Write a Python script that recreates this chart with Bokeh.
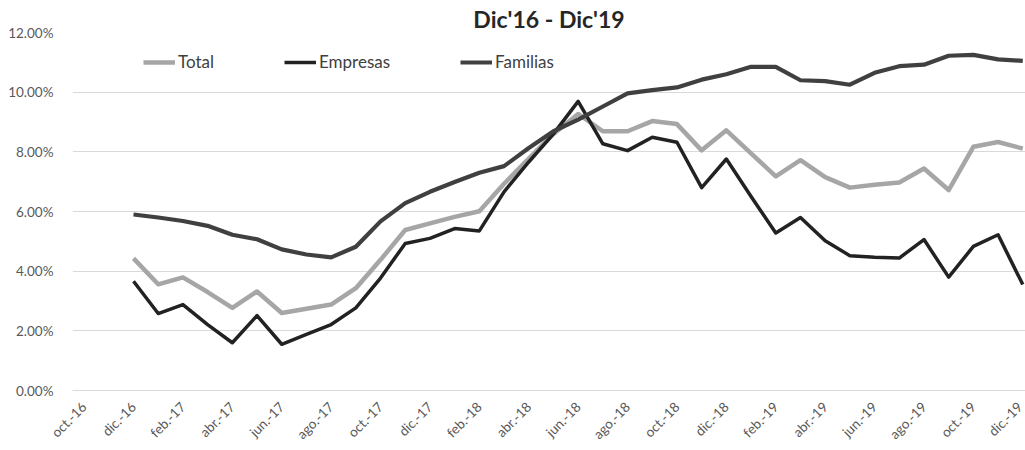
from bokeh.plotting import figure
from bokeh.models import FixedTicker, PrintfTickFormatter, Range1d, Legend, LegendItem
from bokeh.embed import file_html
from bokeh.resources import INLINE

months = ["oct.-16", "nov.-16", "dic.-16",
          "ene.-17", "feb.-17", "mar.-17", "abr.-17", "may.-17", "jun.-17",
          "jul.-17", "ago.-17", "sep.-17", "oct.-17", "nov.-17", "dic.-17",
          "ene.-18", "feb.-18", "mar.-18", "abr.-18", "may.-18", "jun.-18",
          "jul.-18", "ago.-18", "sep.-18", "oct.-18", "nov.-18", "dic.-18",
          "ene.-19", "feb.-19", "mar.-19", "abr.-19", "may.-19", "jun.-19",
          "jul.-19", "ago.-19", "sep.-19", "oct.-19", "nov.-19", "dic.-19"]

# series start at dic.-16
start_month = "dic.-16"

total = [4.43, 3.56, 3.79, 3.30, 2.77, 3.32, 2.60, 2.74, 2.88, 3.43, 4.38, 5.38,
         5.60, 5.82, 6.01, 6.93, 7.77, 8.60, 9.27, 8.69, 8.69, 9.03, 8.93, 8.05,
         8.72, 7.95, 7.18, 7.72, 7.15, 6.80, 6.90, 6.97, 7.44, 6.72, 8.17, 8.33, 8.11]

empresas = [3.66, 2.58, 2.88, 2.21, 1.60, 2.51, 1.55, 1.88, 2.21, 2.77, 3.77, 4.93,
            5.10, 5.43, 5.35, 6.66, 7.66, 8.60, 9.69, 8.27, 8.04, 8.49, 8.32, 6.80,
            7.76, 6.50, 5.28, 5.80, 5.02, 4.52, 4.47, 4.44, 5.06, 3.80, 4.83, 5.22, 3.55]

familias = [5.90, 5.80, 5.68, 5.52, 5.22, 5.07, 4.73, 4.56, 4.46, 4.82, 5.67, 6.28,
            6.66, 6.99, 7.30, 7.52, 8.13, 8.69, 9.08, 9.52, 9.96, 10.07, 10.16, 10.42,
            10.60, 10.85, 10.85, 10.40, 10.37, 10.25, 10.65, 10.87, 10.92, 11.22, 11.25, 11.10, 11.05]

y_ticks = [0, 2, 4, 6, 8, 10, 12]
title_text = "Dic'16 - Dic'19"

s0 = months.index(start_month)
xs = list(range(s0, s0 + len(total)))
tick_idx = list(range(0, len(months), 2))

p = figure(width=1025, height=450, output_backend="svg", toolbar_location=None,
           x_range=Range1d(s0 - 2.47, s0 + 36.11), y_range=Range1d(0, 12),
           min_border_left=72, min_border_right=0, min_border_top=32,
           min_border_bottom=57)
p.outline_line_color = None
p.background_fill_color = "white"
p.border_fill_color = "white"

p.title.text = title_text
p.title.align = "center"
p.title.text_font = "Lato"
p.title.text_font_style = "bold"
p.title.text_font_size = "23px"
p.title.text_color = "#262626"
p.title.standoff = 0

# axes
p.yaxis.ticker = FixedTicker(ticks=y_ticks)
p.yaxis.formatter = PrintfTickFormatter(format="%.2f%%")
p.yaxis.axis_line_color = None
p.yaxis.major_tick_line_color = None
p.yaxis.minor_tick_line_color = None
p.yaxis.major_label_text_font = "Lato"
p.yaxis.major_label_text_font_size = "13.5px"
p.yaxis.major_label_text_color = "#595959"
p.yaxis.major_label_standoff = 13

p.xaxis.ticker = FixedTicker(ticks=tick_idx)
p.xaxis.major_label_overrides = {i: months[i] for i in tick_idx}
p.xaxis.major_label_orientation = 0.785398
p.xaxis.axis_line_color = "#d9d9d9"
p.xaxis.major_tick_line_color = None
p.xaxis.minor_tick_line_color = None
p.xaxis.major_label_text_font = "Lato"
p.xaxis.major_label_text_font_size = "13.5px"
p.xaxis.major_label_text_color = "#595959"
p.xaxis.major_label_standoff = 8

p.xgrid.grid_line_color = None
p.ygrid.grid_line_color = "#d9d9d9"
p.ygrid.grid_line_width = 1

r_total = p.line(xs, total, line_color="#a6a6a6", line_width=4.5, line_join="round")
r_emp = p.line(xs, empresas, line_color="#222222", line_width=3.5, line_join="round")
r_fam = p.line(xs, familias, line_color="#404040", line_width=4.2, line_join="round")

legend = Legend(items=[LegendItem(label="Total", renderers=[r_total]),
                       LegendItem(label="Empresas", renderers=[r_emp]),
                       LegendItem(label="Familias", renderers=[r_fam])],
                orientation="horizontal", location=(71, 318),
                background_fill_alpha=0, border_line_color=None,
                padding=0, margin=0, spacing=70, glyph_width=32, glyph_height=20,
                label_standoff=3, label_text_font="Lato", label_text_font_size="17px",
                label_text_color="#404040")
p.add_layout(legend, "center")

open("out.html", "w").write(file_html(p, INLINE))
